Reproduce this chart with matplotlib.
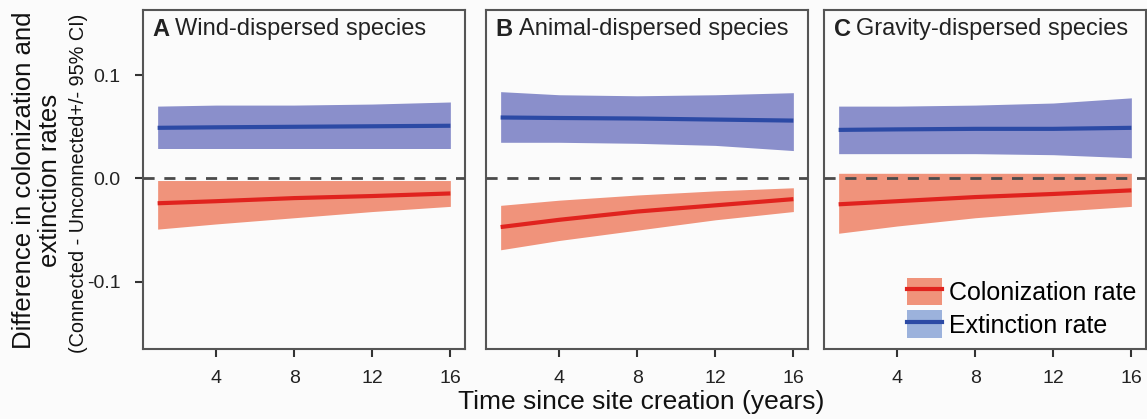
import matplotlib
matplotlib.use("Agg")
import matplotlib.pyplot as plt
from matplotlib.patches import Patch
from matplotlib.lines import Line2D
from matplotlib.legend_handler import HandlerTuple
import numpy as np

plt.rcParams['font.family'] = ['Liberation Sans', 'DejaVu Sans']

years = [1, 4, 8, 12, 16]
panel_letters = ["A", "B", "C"]
panel_titles = ["Wind-dispersed species", "Animal-dispersed species", "Gravity-dispersed species"]

ext_mean = [[0.049, 0.0495, 0.050, 0.0505, 0.051],
            [0.059, 0.0585, 0.058, 0.057, 0.056],
            [0.047, 0.0475, 0.048, 0.048, 0.049]]
ext_upper = [[0.070, 0.071, 0.071, 0.072, 0.074],
             [0.084, 0.081, 0.080, 0.081, 0.083],
             [0.070, 0.070, 0.071, 0.073, 0.078]]
ext_lower = [[0.029, 0.029, 0.029, 0.029, 0.029],
             [0.035, 0.035, 0.034, 0.032, 0.027],
             [0.024, 0.024, 0.024, 0.023, 0.020]]
col_mean = [[-0.024, -0.022, -0.019, -0.017, -0.0145],
            [-0.047, -0.040, -0.032, -0.026, -0.020],
            [-0.025, -0.022, -0.018, -0.015, -0.0115]]
col_upper = [[-0.002, -0.002, -0.002, -0.002, -0.002],
             [-0.026, -0.021, -0.016, -0.012, -0.009],
             [0.005, 0.005, 0.005, 0.005, 0.005]]
col_lower = [[-0.049, -0.044, -0.038, -0.032, -0.027],
             [-0.069, -0.060, -0.050, -0.040, -0.032],
             [-0.053, -0.046, -0.038, -0.032, -0.027]]

x_ticks = [4, 8, 12, 16]
y_ticks = [-0.1, 0.0, 0.1]
y_ticklabels = ["-0.1", "0.0", "0.1"]

BLUE_FILL = "#8a8fcb"
BLUE_LINE = "#2c4aa5"
RED_FILL = "#f0937b"
RED_LINE = "#e0231e"
LEG_BLUE = "#9cb2dc"
BG = "#fbfbfb"

W, H = 1147, 419
fig = plt.figure(figsize=(W / 100, H / 100), dpi=100, facecolor=BG)
renderer = fig.canvas.get_renderer()

lefts = [143, 486, 824]
width = 322
top, bottom = 10, 349

axes = []
for i in range(3):
    ax = fig.add_axes([lefts[i] / W, (H - bottom) / H, width / W, (bottom - top) / H])
    ax.set_facecolor(BG)
    ax.fill_between(years, ext_lower[i], ext_upper[i], color=BLUE_FILL, lw=0)
    ax.fill_between(years, col_lower[i], col_upper[i], color=RED_FILL, lw=0)
    ax.plot(years, ext_mean[i], color=BLUE_LINE, lw=3, solid_capstyle='butt')
    ax.plot(years, col_mean[i], color=RED_LINE, lw=3, solid_capstyle='butt')
    ax.axhline(0, color="#4a4a4a", lw=2, ls=(0, (4, 3.5)), zorder=3)
    ax.set_xlim(0.25, 16.75)
    ax.set_ylim(-0.165, 0.163)
    ax.set_xticks(x_ticks)
    ax.set_xticklabels([str(t) for t in x_ticks], fontsize=14, color="#222222")
    ax.set_yticks(y_ticks)
    if i == 0:
        ax.set_yticklabels(y_ticklabels, fontsize=14, color="#222222")
    else:
        ax.tick_params(axis='y', left=False, labelleft=False)
    ax.tick_params(axis='x', length=6, width=1.5, color="#333333", pad=9)
    ax.tick_params(axis='y', length=6, width=1.5, color="#333333", pad=10)
    for s in ax.spines.values():
        s.set_color("#555555")
        s.set_linewidth(1.5)
    t1 = ax.text(0.03, 0.975, panel_letters[i], transform=ax.transAxes,
                 fontsize=17, fontweight='bold', va='top', ha='left', color="#222222")
    ext = t1.get_window_extent(renderer=renderer)
    x1_axes = ax.transAxes.inverted().transform((ext.x1, ext.y1))[0]
    ax.text(x1_axes + 0.018, 0.975, panel_titles[i], transform=ax.transAxes,
            fontsize=17, va='top', ha='left', color="#222222")
    axes.append(ax)

handles = [(Patch(facecolor=RED_FILL, edgecolor='none'), Line2D([], [], color=RED_LINE, lw=3)),
           (Patch(facecolor=LEG_BLUE, edgecolor='none'), Line2D([], [], color=BLUE_LINE, lw=3))]
axes[2].legend(handles, ["Colonization rate", "Extinction rate"],
               handler_map={tuple: HandlerTuple(ndivide=1, pad=0)},
               loc='lower left', bbox_to_anchor=(907 / W, (H - 338) / H),
               bbox_transform=fig.transFigure, frameon=False,
               fontsize=18, handlelength=1.4, handleheight=1.32, handletextpad=0.28,
               labelspacing=0.2, borderaxespad=0, borderpad=0)

fig.text(641 / W, 1 - 402 / H, "Time since site creation (years)", ha='center', va='center',
         fontsize=19, color="#111111")
fig.text(24 / W, 1 - 180 / H, "Difference in colonization and", rotation=90,
         ha='center', va='center', fontsize=18.5, color="#111111")
fig.text(50 / W, 1 - 180 / H, "extinction rates", rotation=90,
         ha='center', va='center', fontsize=18.5, color="#111111")
fig.text(79 / W, 1 - 183 / H, "(Connected - Unconnected+/- 95% CI)", rotation=90,
         ha='center', va='center', fontsize=14.3, color="#111111")

fig.savefig("out.png", dpi=100, facecolor=BG)
